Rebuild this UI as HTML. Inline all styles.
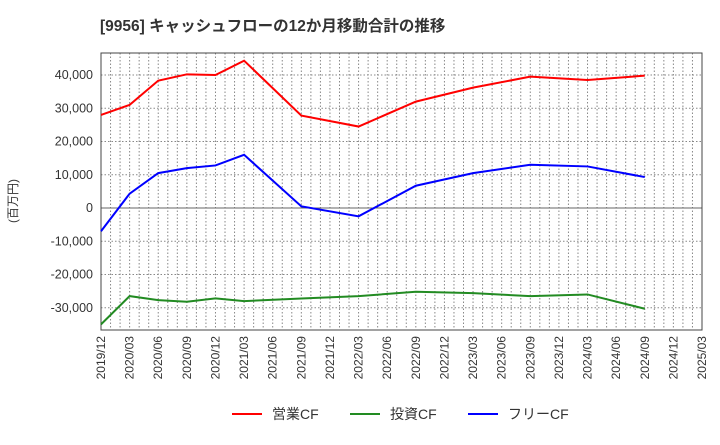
<!DOCTYPE html>
<html><head><meta charset="utf-8"><style>
body{margin:0;background:#fff;font-family:"Liberation Sans","Noto Sans CJK JP",sans-serif;}
</style></head><body>
<svg width="720" height="440" xmlns="http://www.w3.org/2000/svg" id="svg" font-family="Liberation Sans, Noto Sans CJK JP, sans-serif">
<text x="100" y="31" font-size="15.5" font-weight="bold" fill="#333">[9956]  キャッシュフローの12か月移動合計の推移</text>
<text transform="translate(17,201) rotate(-90)" font-size="12" fill="#333" text-anchor="middle">(百万円)</text>
<g id="grid"></g><g id="axes"></g><g id="series"></g>
<g font-size="14" fill="#333">
<line x1="232" y1="414" x2="262" y2="414" stroke="#f00" stroke-width="2"/><text x="272" y="419">営業CF</text>
<line x1="350" y1="414" x2="380" y2="414" stroke="#228b22" stroke-width="2"/><text x="390" y="419">投資CF</text>
<line x1="468" y1="414" x2="498" y2="414" stroke="#00f" stroke-width="2"/><text x="508" y="419">フリーCF</text>
</g>
</svg>
<script>
const tickLabels=["2019/12","2020/03","2020/06","2020/09","2020/12","2021/03","2021/06","2021/09","2021/12","2022/03","2022/06","2022/09","2022/12","2023/03","2023/06","2023/09","2023/12","2024/03","2024/06","2024/09","2024/12","2025/03"];
const yTicks=[-30000,-20000,-10000,0,10000,20000,30000,40000];
const monthIdx=[0,3,6,9,12,15,21,27,33,39,45,51,57];
const operatingCF=[28000,31000,38300,40200,40000,44300,27800,24500,32000,36200,39500,38500,39800];
const investingCF=[-35000,-26500,-27700,-28200,-27200,-28000,-27200,-26500,-25200,-25600,-26500,-26000,-30300];
const freeCF=[-7000,4300,10500,12000,12800,16000,500,-2500,6700,10500,13000,12500,9300];
const L=101,R=702,T=53,B=330,NM=63;
const x=m=>L+m*(R-L)/NM;
const y=v=>208-v*133/40000;
const NS="http://www.w3.org/2000/svg";
function mk(p,t,a){const e=document.createElementNS(NS,t);for(const k in a)e.setAttribute(k,a[k]);document.getElementById(p).appendChild(e);return e;}
for(let m=1;m<NM;m++){const e=mk('grid','line',{x1:x(m),x2:x(m),y1:T,y2:B,stroke:'#888','stroke-dasharray':'1.5,2','stroke-width':1});

}
yTicks.forEach(v=>{const e=mk('grid','line',{x1:L,x2:R,y1:y(v),y2:y(v),stroke:v===0?'#666':'#888','stroke-dasharray':v===0?'none':'1.5,2','stroke-width':1});


const t=mk('axes','text',{x:L-8,y:y(v)+4,'text-anchor':'end','font-size':12.5,fill:'#333'});t.textContent=v.toLocaleString('en-US');

});
tickLabels.forEach((s,i)=>{const xx=x(i*3);const t=mk('axes','text',{transform:`translate(${xx+4},${B+6}) rotate(-90)`,'text-anchor':'end','font-size':12,fill:'#333'});t.textContent=s;

});
const fr=mk('axes','rect',{x:L,y:T,width:R-L,height:B-T,fill:'none',stroke:'#444','stroke-width':1});


[[operatingCF,'#f00','operating-cf-line'],[investingCF,'#228b22','investing-cf-line'],[freeCF,'#00f','free-cf-line']].forEach(([d,c,n])=>{
const p=mk('series','polyline',{points:d.map((v,i)=>x(monthIdx[i])+','+y(v)).join(' '),fill:'none',stroke:c,'stroke-width':2});

});
</script>
</body></html>
